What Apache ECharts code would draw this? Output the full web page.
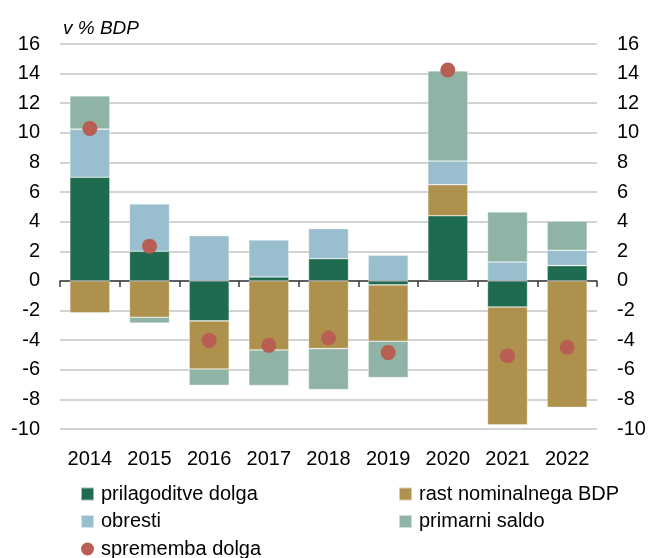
<!DOCTYPE html>
<html>
<head>
<meta charset="utf-8">
<script src="https://cdn.jsdelivr.net/npm/echarts@6/dist/echarts.min.js"></script>
<style>
  html, body { margin: 0; padding: 0; background: #fff; }
  #chart { width: 650px; height: 558px; }
</style>
</head>
<body>
<div id="chart"></div>
<script>
// Razčlenitev spremembe javnega dolga, v % BDP
const years = ['2014', '2015', '2016', '2017', '2018', '2019', '2020', '2021', '2022'];
const prilagoditveDolga = [7.0, 2.0, -2.7, 0.27, 1.5, -0.27, 4.4, -1.76, 1.03];
const rastNominalnegaBDP = [-2.15, -2.45, -3.25, -4.66, -4.57, -3.8, 2.1, -7.95, -8.54];
const obresti = [3.25, 3.2, 3.05, 2.5, 2.03, 1.73, 1.6, 1.28, 1.04];
const primarniSaldo = [2.25, -0.4, -1.1, -2.4, -2.77, -2.46, 6.08, 3.38, 1.96];
const sprememba = [10.3, 2.35, -4.03, -4.35, -3.85, -4.84, 14.24, -5.05, -4.48];

const FONT = '"Liberation Sans", Arial, sans-serif';
const colors = {
  prilagoditve: '#1f6b50',
  rast: '#af914e',
  obresti: '#99bfce',
  primarni: '#8fb4a5',
  sprememba: '#b85e52'
};

const barStyle = (color) => ({ color: color, borderColor: 'rgba(255,255,255,0.55)', borderWidth: 0.6 });

function barSeries(name, data, color) {
  return {
    name: name,
    type: 'bar',
    stack: 'dolg',
    barWidth: 40,
    xAxisIndex: 0,
    yAxisIndex: 0,
    data: data,
    itemStyle: barStyle(color),
    emphasis: { disabled: true }
  };
}

const chart = echarts.init(document.getElementById('chart'), null, { renderer: 'canvas' });

const yCommon = {
  type: 'value',
  min: -10,
  max: 16,
  interval: 2,
  axisLine: { show: false },
  axisTick: { show: false },
  axisLabel: { color: '#000', fontFamily: FONT, fontSize: 20, margin: 20 }
};

const legendCommon = {
  orient: 'vertical',
  top: 479,
  height: 80,
  itemWidth: 13,
  itemHeight: 13,
  itemGap: 7.5,
  selectedMode: false,
  textStyle: { fontFamily: FONT, fontSize: 20, color: '#000', padding: [0, 0, 0, 2] }
};

chart.setOption({
  animation: false,
  textStyle: { fontFamily: FONT },
  title: {
    text: 'v % BDP',
    left: 58,
    top: 14,
    textStyle: { fontFamily: FONT, fontStyle: 'italic', fontWeight: 'normal', fontSize: 19, color: '#000' }
  },
  grid: { left: 60, right: 53, top: 44, bottom: 129, containLabel: false },
  legend: [
    Object.assign({}, legendCommon, {
      left: 75,
      data: [
        { name: 'prilagoditve dolga', icon: 'rect' },
        { name: 'obresti', icon: 'rect' },
        { name: 'sprememba dolga', icon: 'circle' }
      ]
    }),
    Object.assign({}, legendCommon, {
      left: 393,
      data: [
        { name: 'rast nominalnega BDP', icon: 'rect' },
        { name: 'primarni saldo', icon: 'rect' }
      ]
    })
  ],
  xAxis: [
    {
      type: 'category',
      data: years,
      position: 'bottom',
      axisLine: { show: false, onZero: false },
      axisTick: { show: false },
      axisLabel: { color: '#000', fontFamily: FONT, fontSize: 20, margin: 20, interval: 0 }
    },
    {
      type: 'category',
      data: years,
      position: 'bottom',
      axisLine: { show: true, onZero: true, onZeroAxisIndex: 0, lineStyle: { color: '#3a3a3a', width: 1.5 } },
      axisTick: { show: true, length: 6, lineStyle: { color: '#3a3a3a', width: 1.5 } },
      axisLabel: { show: false },
      splitLine: { show: false }
    }
  ],
  yAxis: [
    Object.assign({}, yCommon, {
      position: 'left',
      splitLine: { show: true, lineStyle: { color: '#c4c4c4', width: 1.5 } }
    }),
    Object.assign({}, yCommon, {
      position: 'right',
      splitLine: { show: false }
    })
  ],
  series: [
    barSeries('prilagoditve dolga', prilagoditveDolga, colors.prilagoditve),
    barSeries('rast nominalnega BDP', rastNominalnegaBDP, colors.rast),
    barSeries('obresti', obresti, colors.obresti),
    barSeries('primarni saldo', primarniSaldo, colors.primarni),
    {
      name: 'sprememba dolga',
      type: 'scatter',
      xAxisIndex: 0,
      yAxisIndex: 0,
      symbol: 'circle',
      symbolSize: 15,
      z: 5,
      data: sprememba,
      itemStyle: { color: colors.sprememba, opacity: 1 },
      emphasis: { disabled: true }
    }
  ]
});
</script>
</body>
</html>
